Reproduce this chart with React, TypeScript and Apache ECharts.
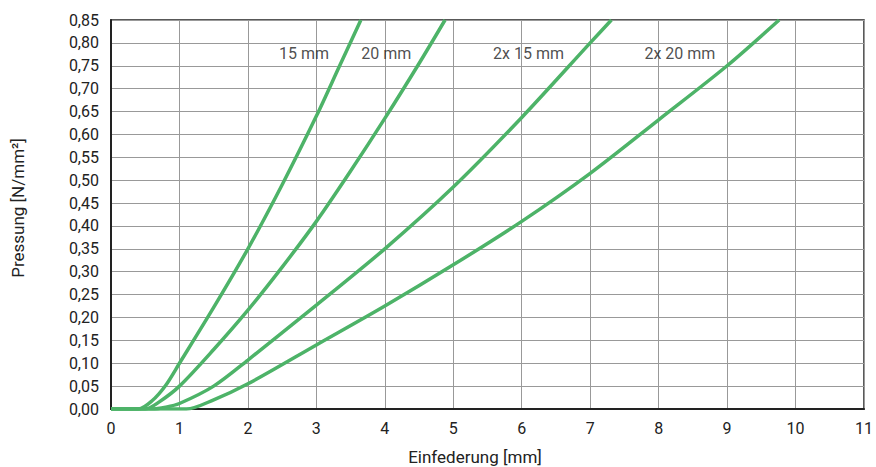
import React, { useEffect, useRef } from "react";
import * as echarts from "echarts";

const curve15x = [0, 0.4, 0.6, 0.8, 1.0, 1.5, 2.0, 2.5, 3.0, 3.34, 3.65];
const curve15y = [0, 0, 0.018, 0.052, 0.1, 0.222, 0.35, 0.49, 0.64, 0.75, 0.85];

const curve20x = [0, 0.5, 0.7, 1.0, 1.5, 2.0, 2.5, 3.0, 3.5, 4.0, 4.5, 4.88];
const curve20y = [0, 0, 0.015, 0.05, 0.13, 0.216, 0.31, 0.41, 0.52, 0.635, 0.755, 0.85];

const curve2x15x = [0, 0.6, 0.8, 1.0, 1.5, 2, 3, 4, 5, 6, 7, 7.31];
const curve2x15y = [0, 0, 0.004, 0.012, 0.05, 0.107, 0.227, 0.35, 0.485, 0.637, 0.8, 0.85];

const curve2x20x = [0, 1.1, 1.5, 2, 3, 4, 5, 6, 7, 8, 9, 9.76];
const curve2x20y = [0, 0, 0.02, 0.055, 0.14, 0.225, 0.315, 0.41, 0.515, 0.632, 0.75, 0.85];

const curveLabels = ["15 mm", "20 mm", "2x 15 mm", "2x 20 mm"];
const labelX = [2.82, 4.02, 6.1, 8.31];
const labelY = [0.776, 0.776, 0.776, 0.776];

const xAxisTitle = "Einfederung [mm]";
const yAxisTitle = "Pressung [N/mm²]";

const GREEN = "#4db368";
const FONT = "Roboto";

function zip(xs: number[], ys: number[]) {
  return xs.map((x, i) => [x, ys[i]]);
}

export default function App() {
  const ref = useRef<HTMLDivElement>(null);
  useEffect(() => {
    if (!ref.current) return;
    const chart = echarts.init(ref.current, undefined, { renderer: "svg" });
    const lineSeries = (name: string, xs: number[], ys: number[]) => ({
      name,
      type: "line",
      data: zip(xs, ys),
      smooth: 0.3,
      showSymbol: false,
      symbol: "none",
      lineStyle: { color: GREEN, width: 3.5 },
      z: 3,
    });
    chart.setOption({
      animation: false,
      textStyle: { fontFamily: FONT },
      grid: {
        left: 111,
        right: 9,
        top: 20,
        bottom: 58,
        show: true,
        borderColor: "#222",
        borderWidth: 1.5,
      },
      xAxis: {
        type: "value",
        min: 0,
        max: 11,
        interval: 1,
        axisLine: { show: true, lineStyle: { color: "#222", width: 2 } },
        axisTick: { show: false },
        axisLabel: { color: "#222", fontSize: 16, margin: 11, fontFamily: FONT },
        splitLine: { show: true, lineStyle: { color: "#999", width: 1 } },
      },
      yAxis: {
        type: "value",
        min: 0,
        max: 0.85,
        interval: 0.05,
        axisLine: { show: true, lineStyle: { color: "#222", width: 2 } },
        axisTick: { show: false },
        axisLabel: {
          color: "#222",
          fontSize: 16,
          margin: 12,
          fontFamily: FONT,
          formatter: (v: number) => v.toFixed(2).replace(".", ","),
        },
        splitLine: { show: true, lineStyle: { color: "#999", width: 1 } },
      },
      series: [
        lineSeries(curveLabels[0], curve15x, curve15y),
        lineSeries(curveLabels[1], curve20x, curve20y),
        lineSeries(curveLabels[2], curve2x15x, curve2x15y),
        lineSeries(curveLabels[3], curve2x20x, curve2x20y),
        {
          type: "scatter",
          symbolSize: 0,
          silent: true,
          z: 4,
          data: curveLabels.map((t, i) => ({ value: [labelX[i], labelY[i]], name: t })),
          label: {
            show: true,
            position: "inside",
            formatter: (p: any) => p.name,
            color: "#222",
            fontSize: 16,
            fontFamily: FONT,
          },
        },
      ],
      graphic: [
        {
          type: "text",
          x: 475,
          y: 457,
          style: {
            text: xAxisTitle,
            fill: "#222",
            font: `17px ${FONT}`,
            textAlign: "center",
            textVerticalAlign: "middle",
          },
        },
        {
          type: "text",
          x: 18,
          y: 208,
          rotation: Math.PI / 2,
          style: {
            text: yAxisTitle,
            fill: "#222",
            font: `17px ${FONT}`,
            textAlign: "center",
            textVerticalAlign: "middle",
          },
        },
      ],
    });
    return () => chart.dispose();
  }, []);
  return <div ref={ref} style={{ width: 876, height: 467, position: "absolute", left: 0, top: 0 }} />;
}
